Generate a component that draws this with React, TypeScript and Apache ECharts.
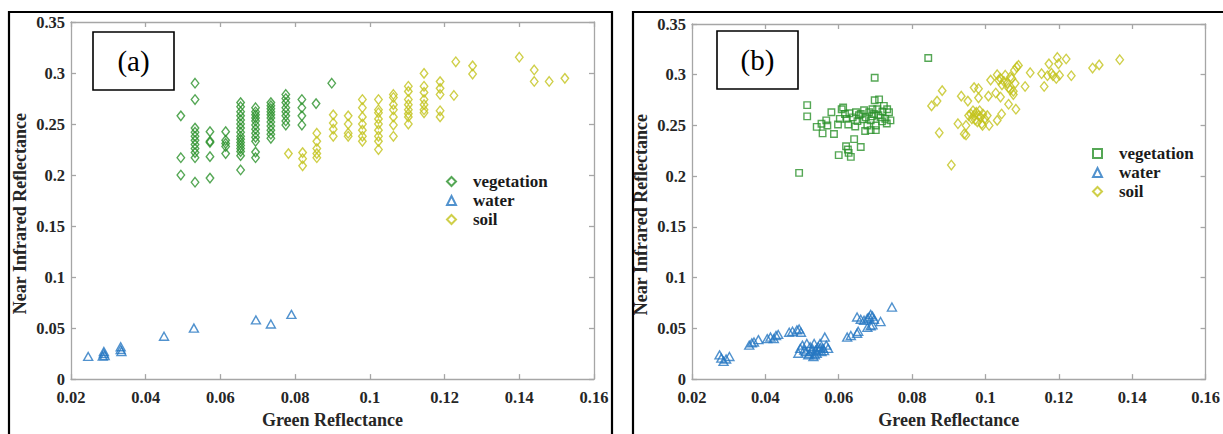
import React, { useEffect, useRef } from "react";
import * as echarts from "echarts";

// ---------- Data ----------
const xTicks = [0.02, 0.16, 0.02]; // min, max, interval (Green Reflectance)
const yTicks = [0, 0.35, 0.05]; // min, max, interval (Near Infrared Reflectance)
const categories = ["vegetation", "water", "soil"];

const vegA: number[][] = [
  [0.0494, 0.258], [0.0494, 0.217], [0.0494, 0.2],
  [0.0532, 0.29], [0.0532, 0.274], [0.0532, 0.246], [0.0532, 0.242], [0.0532, 0.238], [0.0532, 0.234], [0.0532, 0.23], [0.0532, 0.226], [0.0532, 0.222], [0.0532, 0.217], [0.0532, 0.193],
  [0.0572, 0.2425], [0.0572, 0.233], [0.0572, 0.232], [0.0572, 0.218], [0.0572, 0.197],
  [0.0614, 0.2425], [0.0614, 0.234], [0.0614, 0.231], [0.0614, 0.228], [0.0614, 0.221],
  [0.0654, 0.271], [0.0654, 0.267], [0.0654, 0.262], [0.0654, 0.258], [0.0654, 0.254], [0.0654, 0.25], [0.0654, 0.246], [0.0654, 0.242], [0.0654, 0.238], [0.0654, 0.235], [0.0654, 0.232], [0.0654, 0.229], [0.0654, 0.226], [0.0654, 0.223], [0.0654, 0.219], [0.0654, 0.205],
  [0.0694, 0.266], [0.0694, 0.262], [0.0694, 0.259], [0.0694, 0.256], [0.0694, 0.253], [0.0694, 0.249], [0.0694, 0.245], [0.0694, 0.241], [0.0694, 0.237], [0.0694, 0.233], [0.0694, 0.2225], [0.0694, 0.217],
  [0.0735, 0.271], [0.0735, 0.268], [0.0735, 0.265], [0.0735, 0.262], [0.0735, 0.259], [0.0735, 0.256], [0.0735, 0.252], [0.0735, 0.248], [0.0735, 0.244], [0.0735, 0.24], [0.0735, 0.236],
  [0.0775, 0.279], [0.0775, 0.275], [0.0775, 0.271], [0.0775, 0.266], [0.0775, 0.262], [0.0775, 0.258], [0.0775, 0.253], [0.0775, 0.249],
  [0.0818, 0.274], [0.0818, 0.266], [0.0818, 0.258], [0.0818, 0.249],
  [0.0856, 0.27], [0.0898, 0.29],
];

const waterA: number[][] = [
  [0.0246, 0.0222], [0.0288, 0.027], [0.0288, 0.025], [0.029, 0.023], [0.0285, 0.0225],
  [0.0333, 0.0317], [0.0333, 0.029], [0.0335, 0.027], [0.0449, 0.042], [0.0529, 0.05],
  [0.0695, 0.058], [0.0735, 0.054], [0.079, 0.0634],
];

const soilA: number[][] = [
  [0.0782, 0.221],
  [0.082, 0.222], [0.082, 0.216], [0.082, 0.209],
  [0.0858, 0.241], [0.0858, 0.233], [0.0858, 0.226], [0.0858, 0.221], [0.0858, 0.217],
  [0.0902, 0.259], [0.0902, 0.251], [0.0902, 0.245], [0.0902, 0.238],
  [0.0942, 0.258], [0.0942, 0.25], [0.0942, 0.241], [0.0942, 0.238],
  [0.098, 0.274], [0.098, 0.266], [0.098, 0.257], [0.098, 0.25], [0.098, 0.244], [0.098, 0.238], [0.098, 0.233],
  [0.1023, 0.274], [0.1023, 0.264], [0.1023, 0.261], [0.1023, 0.255], [0.1023, 0.25], [0.1023, 0.244], [0.1023, 0.238], [0.1023, 0.233], [0.1023, 0.225],
  [0.1063, 0.279], [0.1063, 0.276], [0.1063, 0.269], [0.1063, 0.264], [0.1063, 0.257], [0.1063, 0.249], [0.1063, 0.238],
  [0.1103, 0.287], [0.1103, 0.282], [0.1103, 0.274], [0.1103, 0.269], [0.1103, 0.264], [0.1103, 0.26], [0.1103, 0.257], [0.1103, 0.25],
  [0.1145, 0.2996], [0.1145, 0.287], [0.1145, 0.281], [0.1145, 0.274], [0.1145, 0.269], [0.1145, 0.264], [0.1145, 0.261],
  [0.1188, 0.2916], [0.1188, 0.285], [0.1188, 0.279], [0.1188, 0.263], [0.1188, 0.257],
  [0.1225, 0.278], [0.123, 0.311], [0.1275, 0.307], [0.1275, 0.299],
  [0.14, 0.3155], [0.144, 0.303], [0.144, 0.2917], [0.148, 0.2917], [0.1522, 0.2948],
];

const vegB: number[][] = [
  [0.0492, 0.2033], [0.0514, 0.27], [0.0514, 0.259], [0.054, 0.2486], [0.0553, 0.2517], [0.0556, 0.2422],
  [0.0566, 0.255], [0.0569, 0.25], [0.058, 0.263], [0.0587, 0.2416], [0.06, 0.2208], [0.0598, 0.251],
  [0.0603, 0.2565], [0.0608, 0.266], [0.0612, 0.2677], [0.0617, 0.2613], [0.0622, 0.2565], [0.0626, 0.251],
  [0.062, 0.2295], [0.0625, 0.2263], [0.0627, 0.223], [0.0633, 0.219], [0.0642, 0.2365], [0.066, 0.2288],
  [0.0629, 0.262], [0.0638, 0.258], [0.0647, 0.263], [0.0651, 0.2543], [0.066, 0.2613], [0.0669, 0.265],
  [0.0674, 0.258], [0.0678, 0.25], [0.0683, 0.263], [0.0687, 0.255], [0.0692, 0.266], [0.0696, 0.2613],
  [0.0701, 0.25], [0.0705, 0.266], [0.071, 0.2757], [0.0714, 0.258], [0.0719, 0.2638], [0.0723, 0.2693],
  [0.0727, 0.2565], [0.0732, 0.266], [0.0737, 0.263], [0.0741, 0.255], [0.0698, 0.297], [0.0698, 0.2748],
  [0.0687, 0.2454], [0.0701, 0.2454], [0.0731, 0.252], [0.0655, 0.26], [0.0665, 0.256], [0.069, 0.259],
  [0.0708, 0.26], [0.0718, 0.254], [0.0672, 0.2445], [0.0645, 0.249], [0.0844, 0.3165],
];

const waterB: number[][] = [
  [0.0275, 0.0239], [0.028, 0.0207], [0.0286, 0.0175], [0.0293, 0.0198], [0.0302, 0.0223],
  [0.0356, 0.0335], [0.0363, 0.0357], [0.0369, 0.0366], [0.0381, 0.0389],
  [0.0405, 0.0399], [0.0414, 0.0414], [0.0423, 0.0399], [0.0429, 0.043], [0.0435, 0.044],
  [0.0465, 0.0462], [0.0474, 0.0471], [0.0486, 0.0485], [0.0492, 0.0494], [0.0497, 0.0462],
  [0.049, 0.0255], [0.0495, 0.0303], [0.0501, 0.0335], [0.0506, 0.0287], [0.0513, 0.0351], [0.0517, 0.0239],
  [0.0522, 0.0319], [0.0526, 0.0271], [0.0531, 0.0223], [0.0533, 0.0351], [0.0537, 0.0287], [0.054, 0.0255],
  [0.0544, 0.0319], [0.0549, 0.0351], [0.0553, 0.0271], [0.0557, 0.0303], [0.0562, 0.0414], [0.0566, 0.0335],
  [0.0571, 0.0303], [0.052, 0.025], [0.0535, 0.024], [0.0545, 0.0285], [0.055, 0.031], [0.0528, 0.03],
  [0.051, 0.027], [0.056, 0.028],
  [0.0623, 0.0414], [0.0633, 0.043], [0.065, 0.0452], [0.0653, 0.0471], [0.065, 0.0612], [0.066, 0.059],
  [0.0669, 0.058], [0.0678, 0.06], [0.0683, 0.0612], [0.0687, 0.0638], [0.0692, 0.0621], [0.0696, 0.059],
  [0.0678, 0.051], [0.0687, 0.0526], [0.0692, 0.0535], [0.0714, 0.0567], [0.0745, 0.071],
];

const soilB: number[][] = [
  [0.0853, 0.2693], [0.0868, 0.274], [0.0882, 0.2843], [0.0874, 0.2428], [0.0907, 0.211], [0.0925, 0.2517],
  [0.0934, 0.2789], [0.0942, 0.2416], [0.0947, 0.2406], [0.0947, 0.25], [0.0952, 0.274],
  [0.0954, 0.2597], [0.096, 0.2613], [0.0963, 0.2565], [0.0966, 0.2645], [0.0969, 0.2597], [0.0972, 0.2555],
  [0.0975, 0.2629], [0.0978, 0.2535], [0.0981, 0.2597], [0.0984, 0.2645], [0.0987, 0.2581], [0.099, 0.2517],
  [0.0993, 0.2613], [0.0998, 0.2565], [0.1005, 0.2597],
  [0.0969, 0.2873], [0.0981, 0.2862], [0.0981, 0.2772], [0.0992, 0.25], [0.1008, 0.2789], [0.101, 0.25],
  [0.1014, 0.2947], [0.1028, 0.282],
  [0.1032, 0.3], [0.1036, 0.2947], [0.1041, 0.2963], [0.1045, 0.29], [0.105, 0.2935], [0.1054, 0.2995],
  [0.1059, 0.2915], [0.1063, 0.287], [0.1068, 0.2978], [0.1072, 0.2963], [0.1076, 0.2836], [0.1081, 0.2915],
  [0.1032, 0.255], [0.1044, 0.2613], [0.1041, 0.278], [0.1063, 0.2709], [0.1068, 0.2852], [0.1076, 0.2804],
  [0.1083, 0.266], [0.1079, 0.3044], [0.1085, 0.3075], [0.109, 0.3092], [0.1108, 0.2884], [0.1122, 0.302],
  [0.1153, 0.301], [0.116, 0.2884], [0.1169, 0.299], [0.1173, 0.3107], [0.118, 0.3015], [0.1184, 0.299],
  [0.1193, 0.2963], [0.1196, 0.317], [0.1199, 0.3107], [0.1202, 0.2995], [0.122, 0.3155], [0.1234, 0.299],
  [0.1292, 0.3066], [0.131, 0.3097], [0.1366, 0.3148],
];

// ---------- Styles ----------
const GREEN = "#2b912b";
const BLUE = "#2577c2";
const YELLOW = "#c3c31c";
const AXIS_GREY = "#a6a6a6";
const SERIF = '"Liberation Serif", "Times New Roman", serif';

export default function App() {
  const ref = useRef<HTMLDivElement>(null);

  useEffect(() => {
    if (!ref.current) return;
    const chart = echarts.init(ref.current, null, { renderer: "svg" });

    const [xmin, xmax, xint] = xTicks;
    const [ymin, ymax, yint] = yTicks;

    const grids = [
      { left: 71, top: 22, width: 523, height: 368 },
      { left: 692, top: 24, width: 521, height: 366 },
    ];

    const tickLabel = {
      fontFamily: SERIF,
      fontWeight: "bold" as const,
      fontSize: 16.5,
      color: "#262626",
    };

    const xAxes: any[] = [];
    const yAxes: any[] = [];
    grids.forEach((_, g) => {
      const axisLine = { show: true, onZero: false, lineStyle: { color: AXIS_GREY, width: 1.3 } };
      const axisTick = { show: true, inside: true, length: 5, lineStyle: { color: AXIS_GREY, width: 1.3 } };
      xAxes.push({
        type: "value", gridIndex: g, position: "bottom", min: xmin, max: xmax, interval: xint,
        axisLine, axisTick, splitLine: { show: false },
        axisLabel: { ...tickLabel, margin: 10 },
        name: "Green Reflectance", nameLocation: "middle", nameGap: 30,
        nameTextStyle: { fontFamily: SERIF, fontWeight: "bold", fontSize: 18, color: "#262626" },
      });
      xAxes.push({
        type: "value", gridIndex: g, position: "top", min: xmin, max: xmax, interval: xint,
        axisLine, axisTick, splitLine: { show: false }, axisLabel: { show: false },
      });
      yAxes.push({
        type: "value", gridIndex: g, position: "left", min: ymin, max: ymax, interval: yint,
        axisLine, axisTick, splitLine: { show: false },
        axisLabel: { ...tickLabel, margin: 6 },
        name: "Near Infrared Reflectance", nameLocation: "middle", nameGap: 42, nameRotate: 90,
        nameTextStyle: {
          fontFamily: SERIF, fontWeight: "bold", fontSize: 18, color: "#262626",
          padding: [0, 26, 0, 0],
        },
      });
      yAxes.push({
        type: "value", gridIndex: g, position: "right", min: ymin, max: ymax, interval: yint,
        axisLine, axisTick, splitLine: { show: false }, axisLabel: { show: false },
      });
    });

    const mk = (name: string, data: number[][], g: number, color: string, symbol: string, size: any) => ({
      type: "scatter",
      name,
      xAxisIndex: g * 2,
      yAxisIndex: g * 2,
      data,
      symbol,
      symbolSize: size,
      itemStyle: { color: "rgba(255,255,255,0)", borderColor: color, borderWidth: 1.4 },
      emphasis: { disabled: true },
    });

    const DIAMOND = [7.5, 9.5];
    const TRI = [9, 8];
    const SQ = 6.5;

    const series = [
      mk(categories[0], vegA, 0, GREEN, "diamond", DIAMOND),
      mk(categories[1], waterA, 0, BLUE, "triangle", TRI),
      mk(categories[2], soilA, 0, YELLOW, "diamond", DIAMOND),
      mk(categories[0] + "_b", vegB, 1, GREEN, "rect", SQ),
      mk(categories[1] + "_b", waterB, 1, BLUE, "triangle", TRI),
      mk(categories[2] + "_b", soilB, 1, YELLOW, "diamond", DIAMOND),
    ];

    const legendBase = {
      orient: "vertical",
      padding: 0,
      itemGap: 0,
      itemWidth: 9,
      itemHeight: 9,
      selectedMode: false,
      formatter: (n: string) => n.replace("_b", ""),
      textStyle: {
        fontFamily: SERIF, fontWeight: "bold", fontSize: 17, color: "#1a1a1a",
        lineHeight: 19, padding: [0, 0, 0, 12],
      },
    };

    const frame = (x: number, y: number, w: number, h: number, lw: number) => ({
      type: "rect",
      shape: { x, y, width: w, height: h },
      style: { fill: "none", stroke: "#000", lineWidth: lw },
      silent: true,
      z: 100,
    });

    chart.setOption({
      animation: false,
      backgroundColor: "#fff",
      grid: grids.map((g) => ({ ...g, containLabel: false })),
      xAxis: xAxes,
      yAxis: yAxes,
      legend: [
        { ...legendBase, left: 446, top: 172, data: categories },
        { ...legendBase, left: 1092, top: 144, data: categories.map((c) => c + "_b") },
      ],
      series,
      graphic: [
        frame(9, 12, 603, 440, 2.2),
        frame(633, 12, 600, 440, 2.2),
        frame(93, 32, 81, 58, 1.6),
        frame(717, 31, 81, 58, 1.6),
        {
          type: "text", x: 133.5, y: 61, z: 101,
          style: { text: "(a)", font: `29px ${SERIF}`, fill: "#000", align: "center", verticalAlign: "middle" },
        },
        {
          type: "text", x: 757.5, y: 60, z: 101,
          style: { text: "(b)", font: `29px ${SERIF}`, fill: "#000", align: "center", verticalAlign: "middle" },
        },
      ],
    });

    return () => chart.dispose();
  }, []);

  return (
    <div
      ref={ref}
      style={{ position: "fixed", left: 0, top: 0, width: 1223, height: 434, background: "#fff" }}
    />
  );
}
